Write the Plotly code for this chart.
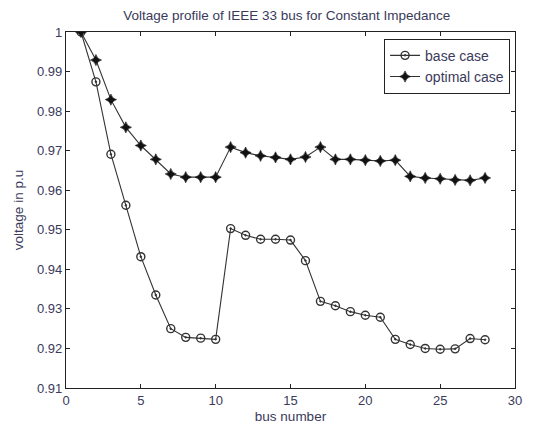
import plotly.graph_objects as go

bus = list(range(1, 29))
base_case = [1.0, 0.9874, 0.9691, 0.9562, 0.9432, 0.9335, 0.9250, 0.9228, 0.9226, 0.9223,
             0.9503, 0.9486, 0.9476, 0.9476, 0.9474, 0.9422, 0.9319, 0.9308, 0.9293, 0.9284,
             0.9279, 0.9223, 0.9210, 0.9200, 0.9198, 0.9199, 0.9225, 0.9222]
optimal_case = [1.0, 0.9929, 0.9829, 0.9759, 0.9713, 0.9678, 0.9641, 0.9633, 0.9633, 0.9633,
                0.9709, 0.9695, 0.9687, 0.9683, 0.9678, 0.9684, 0.9709, 0.9678, 0.9678, 0.9676,
                0.9674, 0.9676, 0.9635, 0.9631, 0.9629, 0.9626, 0.9625, 0.9631]
x_ticks = [0, 5, 10, 15, 20, 25, 30]
y_ticks = [0.91, 0.92, 0.93, 0.94, 0.95, 0.96, 0.97, 0.98, 0.99, 1.0]
y_tick_labels = ["0.91", "0.92", "0.93", "0.94", "0.95", "0.96", "0.97", "0.98", "0.99", "1"]

txt = "#3a3a5a"
fig = go.Figure()
fig.add_trace(go.Scatter(
    x=bus, y=base_case, mode="lines+markers", name="base case",
    line=dict(color="#333333", width=1.1),
    marker=dict(symbol="circle-dot", size=8, color="rgba(0,0,0,0)",
                line=dict(color="#333333", width=1.4)),
))
fig.add_trace(go.Scatter(
    x=bus, y=optimal_case, mode="lines+markers", name="optimal case",
    line=dict(color="#333333", width=1.1),
    marker=dict(symbol="star-diamond", size=8, color="#111111",
                line=dict(color="#111111", width=0.6)),
))

axis_common = dict(showline=True, linecolor="#222222", linewidth=1.2, mirror="ticks",
                   ticks="inside", ticklen=4, tickcolor="#222222", showgrid=False,
                   zeroline=False, tickfont=dict(size=13, color=txt))
fig.update_xaxes(range=[0, 30], tickvals=x_ticks,
                 title=dict(text="bus number", font=dict(size=13.5, color=txt), standoff=4),
                 **axis_common)
fig.update_yaxes(range=[0.91, 1.0], tickvals=y_ticks, ticktext=y_tick_labels,
                 title=dict(text="voltage in p.u", font=dict(size=13.5, color=txt), standoff=10),
                 **axis_common)

fig.update_layout(
    width=534, height=433,
    margin=dict(l=66, r=18, t=32, b=38),
    paper_bgcolor="white", plot_bgcolor="white",
    font=dict(family="Liberation Sans, Arial, sans-serif", size=13, color=txt),
    title=dict(text="Voltage profile of IEEE 33 bus for Constant Impedance",
               x=0.537, xanchor="center", y=0.965, yanchor="middle",
               font=dict(size=13.5, color=txt)),
    legend=dict(x=0.989, xanchor="right", y=0.981, yanchor="top",
                bordercolor="#222222", borderwidth=1, bgcolor="white",
                font=dict(size=14, color=txt), tracegroupgap=0),
    showlegend=True,
)

fig.write_html(
    "out.html",
    config={"displayModeBar": False},
    post_script="document.body.style.margin='0';document.body.style.padding='0';"
                "document.documentElement.style.overflow='hidden';",
)
